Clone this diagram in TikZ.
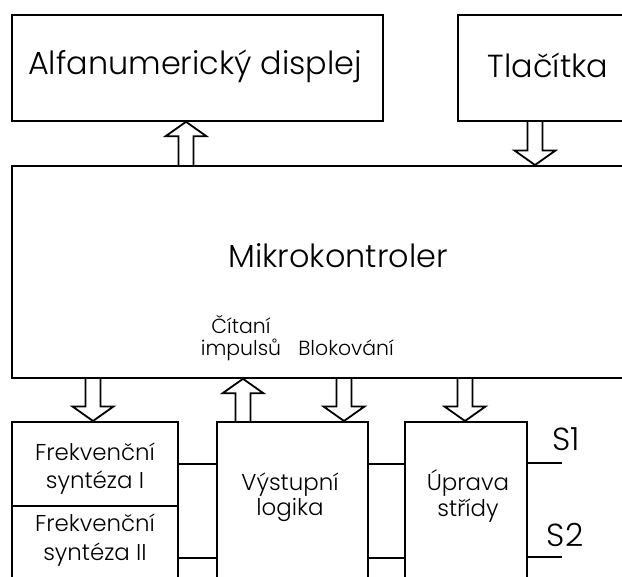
\documentclass[tikz,border=0pt]{standalone}
\usepackage{fontspec}
\setmainfont{Poppins}[UprightFont={* Light}]
\usetikzlibrary{calc}

\tikzset{
  box/.style={draw, line width=1.8bp, inner sep=0pt, anchor=north west},
  big/.style={font=\fontsize{32}{38}\selectfont, inner sep=0pt, anchor=base},
  small/.style={font=\fontsize{23}{27}\selectfont, inner sep=0pt, anchor=base},
  tag/.style={font=\fontsize{20.5}{24}\selectfont, inner sep=0pt, anchor=base},
  wire/.style={line width=1.8bp},
  blk/.style={draw, line width=1.8bp, line join=miter},
}

% hollow block arrow from a tail point to a tip point (vertical)
\newcommand\blockarrow[2]{%
  \draw[blk] let \p1=(#1), \p2=(#2), \n1={ifthenelse(\y2>\y1,1,-1)} in
    (\x1-7.5bp,\y1) -- (\x1-7.5bp,{\y2-\n1*14.5bp}) -- (\x1-20.5bp,{\y2-\n1*14.5bp})
    -- (\x1,\y2) -- (\x1+20.5bp,{\y2-\n1*14.5bp}) -- (\x1+7.5bp,{\y2-\n1*14.5bp})
    -- (\x1+7.5bp,\y1);}

\begin{document}
\begin{tikzpicture}[x=1bp,y=-1bp]
\useasboundingbox (0,0) rectangle (622,577);
\fill[white] (0,0) rectangle (622,577);
\clip (0,0) rectangle (622,577);

% boxes
\node[box, minimum width=371bp, minimum height=106bp] (alfa) at (11,14) {};
\node[box, minimum width=183bp, minimum height=106bp] (tl) at (457,14) {};
\node[box, minimum width=629bp, minimum height=212bp] (mk) at (11,165) {};
\node[box, minimum width=166bp, minimum height=84bp] (fr1) at (11,421) {};
\node[box, minimum width=166bp, minimum height=104bp] (fr2) at (11,505) {};
\node[box, minimum width=151bp, minimum height=179bp] (vl) at (216,421) {};
\node[box, minimum width=122bp, minimum height=179bp] (up) at (404,421) {};

% labels
\node[big] (alfat) at (195,75) {Alfanumerický displej};
\node[big] (tlt) at (548,78) {Tlačítka};
\node[big] (mkt) at (338,267) {Mikrokontroler};
\node[tag] (cit1) at (241,333) {Čítaní};
\node[tag] (cit2) at (241,355) {impulsů};
\node[tag] (blok) at (346,355) {Blokování};
\node[small] (fr1a) at (95,460) {Frekvenční};
\node[small] (fr1b) at (95,488) {syntéza I};
\node[small] (fr2a) at (95,531) {Frekvenční};
\node[small] (fr2b) at (95,560) {syntéza II};
\node[small] (vla) at (290,490) {Výstupní};
\node[small] (vlb) at (290,515) {logika};
\node[small] (upa) at (468,490) {Úprava};
\node[small] (upb) at (468,516) {střídy};

% arrow columns
\coordinate (c0) at (186,0);
\coordinate (c1) at (535,0);
\coordinate (c2) at (93,0);
\coordinate (c3) at (243,0);
\coordinate (c4) at (344,0);
\coordinate (c5) at (465,0);

\blockarrow{mk.north -| c0}{alfa.south -| c0}
\blockarrow{tl.south -| c1}{mk.north -| c1}
\blockarrow{mk.south -| c2}{fr1.north -| c2}
\blockarrow{vl.north -| c3}{mk.south -| c3}
\blockarrow{mk.south -| c4}{vl.north -| c4}
\blockarrow{mk.south -| c5}{up.north -| c5}

% signal lines
\coordinate (s1) at (562,463);
\coordinate (s2) at (562,557);
\draw[wire] (fr1.east) -- (fr1.east -| vl.west);
\draw[wire] (fr2.east) -- (fr2.east -| vl.west);
\draw[wire] (vl.east |- fr1.east) -- (up.west |- fr1.east);
\draw[wire] (vl.east |- fr2.east) -- (up.west |- fr2.east);
\draw[wire] (up.east |- s1) -- (s1);
\draw[wire] (up.east |- s2) -- (s2);
\node[big] (s1t) at (566,450) {S1};
\node[big] (s2t) at (565,546) {S2};
\end{tikzpicture}
\end{document}
